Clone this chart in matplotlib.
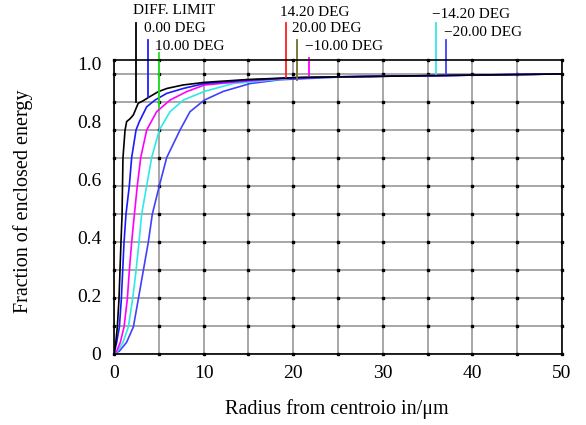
import numpy as np
import matplotlib
matplotlib.use("Agg")
import matplotlib.pyplot as plt

plt.rcParams['font.family'] = ['Liberation Serif', 'DejaVu Serif']

# radius (um) and fraction of enclosed energy
plateau_x = [15, 20, 25, 30, 35, 40, 45, 50]

diff_x = [0, 0.2, 0.37, 0.56, 0.67, 0.78, 0.9, 0.95, 1.0, 1.23, 1.41, 1.8, 2.16, 2.7,
          3.27, 4.0, 4.95, 5.9, 7.7, 10.1] + plateau_x
diff_y = [0, 0.04, 0.093, 0.19, 0.29, 0.385, 0.48, 0.58, 0.675, 0.77, 0.80, 0.81, 0.823,
          0.863, 0.872, 0.886, 0.903, 0.914, 0.926, 0.935,
          0.945, 0.951, 0.954, 0.956, 0.958, 0.960, 0.962, 0.964]

f0_x = [0, 0.3, 0.6, 0.82, 0.97, 1.12, 1.34, 1.71, 1.97, 2.46, 2.83, 3.65, 4.58, 5.88,
        7.73, 10.08] + plateau_x
f0_y = [0, 0.04, 0.093, 0.19, 0.287, 0.385, 0.482, 0.579, 0.676, 0.771, 0.80, 0.851,
        0.874, 0.897, 0.914, 0.931,
        0.943, 0.951, 0.954, 0.956, 0.958, 0.960, 0.962, 0.964]

f10_x = [0, 0.3, 0.7, 1.12, 1.49, 1.71, 1.97, 2.28, 2.6, 2.98, 3.65, 4.76, 6.25, 8.1,
         10.1] + plateau_x
f10_y = [0, 0.01, 0.04, 0.093, 0.19, 0.287, 0.385, 0.482, 0.579, 0.676, 0.771, 0.834,
         0.874, 0.903, 0.926,
         0.940, 0.951, 0.954, 0.956, 0.958, 0.960, 0.962, 0.964]

f14_x = [0, 0.4, 1.0, 1.6, 2.08, 2.46, 2.79, 3.09, 3.65, 4.2, 5.06, 6.25, 7.73, 10.1,
         13.3, 20, 25, 30, 35, 40, 45, 50]
f14_y = [0, 0.01, 0.04, 0.093, 0.19, 0.287, 0.385, 0.482, 0.579, 0.676, 0.771, 0.834,
         0.874, 0.904, 0.931, 0.950, 0.954, 0.956, 0.958, 0.960, 0.962, 0.964]

f20_x = [0, 0.6, 1.4, 2.16, 2.72, 3.27, 3.83, 4.28, 5.06, 5.88, 7.37, 8.48, 10.08, 12.2,
         15.2, 18.5, 25, 30, 35, 40, 45, 50]
f20_y = [0, 0.01, 0.04, 0.093, 0.19, 0.287, 0.385, 0.482, 0.579, 0.676, 0.771, 0.834,
         0.874, 0.904, 0.931, 0.944, 0.953, 0.956, 0.958, 0.960, 0.962, 0.964]

# field labels above the plot: text, marker x, marker bottom/top, text x/y
field_names = ["DIFF. LIMIT", "0.00 DEG", "10.00 DEG", "14.20 DEG", "20.00 DEG",
               "\u221210.00 DEG", "\u221214.20 DEG", "\u221220.00 DEG"]
field_mark_x = [2.42, 3.83, 5.0, 19.16, 20.46, 21.8, 35.9, 37.1]
field_mark_lo = [0.867, 0.885, 0.847, 0.953, 0.943, 0.960, 0.964, 0.964]
field_mark_hi = [1.139, 1.081, 1.035, 1.139, 1.081, 1.019, 1.139, 1.081]
field_text_x = [2.12, 3.35, 4.58, 18.5, 19.9, 21.3, 35.5, 36.8]
field_text_y = [1.181, 1.119, 1.057, 1.177, 1.119, 1.057, 1.170, 1.108]
field_colors = ['black', '#2020ff', '#20e020', '#ff2020', '#707030', '#ff00ff',
                '#30e8e8', '#4040ff']

x_ticks = [0, 10, 20, 30, 40, 50]
y_ticks = [0, 0.2, 0.4, 0.6, 0.8, 1.0]
y_tick_labels = ["0", "0.2", "0.4", "0.6", "0.8", "1.0"]

fig = plt.figure(figsize=(5.86, 4.25), dpi=100)
ax = fig.add_axes([114 / 586, 1 - 354 / 425, 448 / 586, 294 / 425])
ax.set_xlim(0, 50)
ax.set_ylim(0, 1.012)

# grid, with small dots on each crossing
grid_x = np.arange(0, 51, 5)
grid_y = np.arange(11) * 0.0964
for gx in grid_x:
    ax.axvline(gx, color='#a0a0a0', lw=1.3, zorder=1)
for gy in grid_y:
    ax.axhline(gy, color='#a0a0a0', lw=1.3, zorder=1)
gxx, gyy = np.meshgrid(grid_x, np.append(grid_y, 1.012))
ax.plot(gxx.ravel(), gyy.ravel(), 's', color='black', ms=1.7, zorder=2, clip_on=False)

ax.plot(f20_x, f20_y, color='#4040ff', lw=1.2, zorder=3)
ax.plot(f14_x, f14_y, color='#30e8e8', lw=1.2, zorder=3)
ax.plot(f10_x, f10_y, color='#ff00ff', lw=1.2, zorder=3)
ax.plot(f0_x, f0_y, color='#1a1aff', lw=1.2, zorder=4)
ax.plot(diff_x, diff_y, color='black', lw=1.2, zorder=5)

for name, mx, lo, hi, tx, ty, c in zip(field_names, field_mark_x, field_mark_lo,
                                       field_mark_hi, field_text_x, field_text_y,
                                       field_colors):
    ax.plot([mx, mx], [lo, hi], color=c, lw=1.3, zorder=6, clip_on=False)
    ax.text(tx, ty, name, fontsize=11, ha='left', va='center', color='black')

for s in ax.spines.values():
    s.set_color('black')
    s.set_linewidth(1.2)
    s.set_zorder(7)

ax.set_xticks(x_ticks)
ax.set_yticks(y_ticks)
ax.set_yticklabels(y_tick_labels)
ax.tick_params(length=0, labelsize=14)
ax.tick_params(axis='x', pad=8)
ax.tick_params(axis='y', pad=9)

ax.set_xlabel("Radius from centroio in/\u03bcm", fontsize=14.5)
ax.set_ylabel("Fraction of enclosed energy", fontsize=14.5)
ax.xaxis.set_label_coords(0.498, -0.155)
ax.yaxis.set_label_coords(-0.181, 0.52)

fig.savefig("out.png", dpi=100)
